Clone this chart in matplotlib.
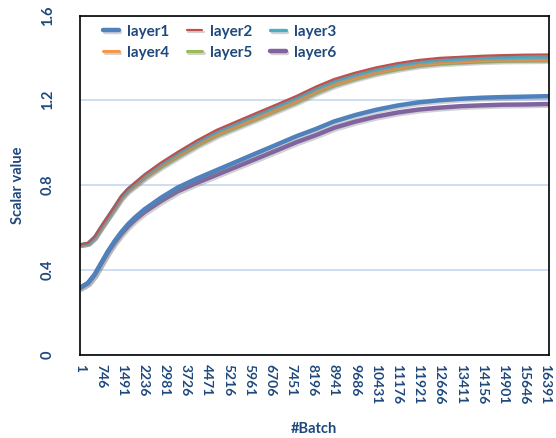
import matplotlib
matplotlib.use("Agg")
import matplotlib.pyplot as plt
import matplotlib.patheffects as pe

plt.rcParams['font.family'] = ['Lato', 'DejaVu Sans']

batches = [1, 280, 516, 748, 983, 1218, 1450, 1685, 1920, 2270, 2854, 3440, 4110, 4810,
           5510, 6210, 6920, 7620, 8320, 8950, 9690, 10430, 11180, 11920, 12670, 13410,
           14160, 14900, 15650, 16390, 16520]

layer1 = [0.315, 0.337, 0.377, 0.432, 0.487, 0.535, 0.577, 0.614, 0.645, 0.685, 0.740, 0.788,
          0.830, 0.870, 0.910, 0.950, 0.990, 1.030, 1.065, 1.100, 1.130, 1.155, 1.175, 1.190,
          1.200, 1.207, 1.212, 1.215, 1.217, 1.219, 1.219]
layer2 = [0.520, 0.527, 0.557, 0.606, 0.653, 0.700, 0.748, 0.783, 0.810, 0.850, 0.906, 0.956,
          1.010, 1.060, 1.100, 1.140, 1.180, 1.220, 1.265, 1.300, 1.330, 1.355, 1.375, 1.390,
          1.400, 1.405, 1.410, 1.413, 1.415, 1.416, 1.416]
layer3 = [0.518, 0.525, 0.555, 0.604, 0.651, 0.698, 0.746, 0.781, 0.806, 0.845, 0.900, 0.949,
          1.002, 1.051, 1.090, 1.130, 1.170, 1.209, 1.254, 1.289, 1.319, 1.344, 1.364, 1.379,
          1.389, 1.394, 1.399, 1.402, 1.403, 1.404, 1.404]
layer4 = [0.517, 0.524, 0.553, 0.601, 0.647, 0.693, 0.740, 0.774, 0.798, 0.836, 0.890, 0.938,
          0.990, 1.038, 1.077, 1.116, 1.156, 1.195, 1.240, 1.275, 1.305, 1.331, 1.351, 1.367,
          1.377, 1.382, 1.387, 1.390, 1.391, 1.392, 1.392]
layer5 = [0.517, 0.523, 0.552, 0.599, 0.645, 0.690, 0.736, 0.770, 0.794, 0.831, 0.884, 0.931,
          0.983, 1.031, 1.070, 1.109, 1.149, 1.188, 1.233, 1.268, 1.299, 1.325, 1.345, 1.361,
          1.371, 1.376, 1.381, 1.384, 1.385, 1.386, 1.386]
layer6 = [0.315, 0.337, 0.377, 0.430, 0.483, 0.529, 0.569, 0.604, 0.634, 0.672, 0.724, 0.770,
          0.810, 0.848, 0.886, 0.924, 0.963, 1.002, 1.036, 1.070, 1.099, 1.123, 1.142, 1.156,
          1.165, 1.172, 1.176, 1.179, 1.180, 1.182, 1.182]

series = [layer1, layer2, layer3, layer4, layer5, layer6]
names = ['layer1', 'layer2', 'layer3', 'layer4', 'layer5', 'layer6']
colors = ['#4F81BD', '#C0504D', '#4BACC6', '#F79646', '#9BBB59', '#8064A2']
widths = [3.2, 1.6, 2.4, 2.2, 2.2, 3.2]
zorders = [6, 5, 4, 3, 2, 1]

xtick_labels = [str(1 + 745 * i) for i in range(23)]
xtick_pos = [1 + 745 * i for i in range(23)]
yticks = [0, 0.4, 0.8, 1.2, 1.6]
ytick_labels = ['0', '0.4', '0.8', '1.2', '1.6']

navy = '#1F497D'

fig = plt.figure(figsize=(5.56, 4.38), dpi=100)
ax = fig.add_axes([80/556, 1 - 354.5/438, (549-80)/556, (354.5-15.5)/438])

lines = []
for y, n, c, w, z in zip(series, names, colors, widths, zorders):
    ln, = ax.plot(batches, y, color=c, lw=w, label=n, solid_capstyle='round', zorder=z + 2,
                  path_effects=[pe.SimpleLineShadow(offset=(1.2, -1.2), shadow_color='#808080', alpha=0.35),
                                pe.Normal()])
    lines.append(ln)

ax.set_xlim(1, 16520)
ax.set_ylim(0, 1.6)
ax.set_yticks(yticks)
ax.set_yticklabels(ytick_labels, rotation=90, va='center', fontsize=10.5, fontweight='bold', color=navy)
ax.set_xticks(xtick_pos)
ax.set_xticklabels(xtick_labels, rotation=270, ha='center', va='top', fontsize=10, fontweight='bold', color=navy)
ax.tick_params(axis='both', length=0)
ax.tick_params(axis='x', pad=7)
ax.tick_params(axis='y', pad=18)
ax.grid(axis='y', color='#C6D9F1', lw=1.2)
ax.set_axisbelow(True)
for s in ax.spines.values():
    s.set_linewidth(1.2)
    s.set_color('black')
    s.set_zorder(20)

fig.text(18/556, 1 - 185/438, 'Scalar value', rotation=90, ha='center', va='center',
         fontsize=10.5, fontweight='bold', color=navy)
fig.text(314/556, 1 - 429/438, '#Batch', ha='center', va='center',
         fontsize=10.5, fontweight='bold', color=navy)

order = [0, 3, 1, 4, 2, 5]
leg = ax.legend([lines[i] for i in order], [names[i] for i in order], ncol=3,
                loc='upper left', bbox_to_anchor=(0.03, 1.0), frameon=False,
                handlelength=1.0, handletextpad=0.55, columnspacing=1.15,
                labelspacing=0.45, borderaxespad=0.2,
                prop={'size': 11, 'weight': 'bold'})
for t in leg.get_texts():
    t.set_color(navy)

fig.savefig('out.png', dpi=100)
